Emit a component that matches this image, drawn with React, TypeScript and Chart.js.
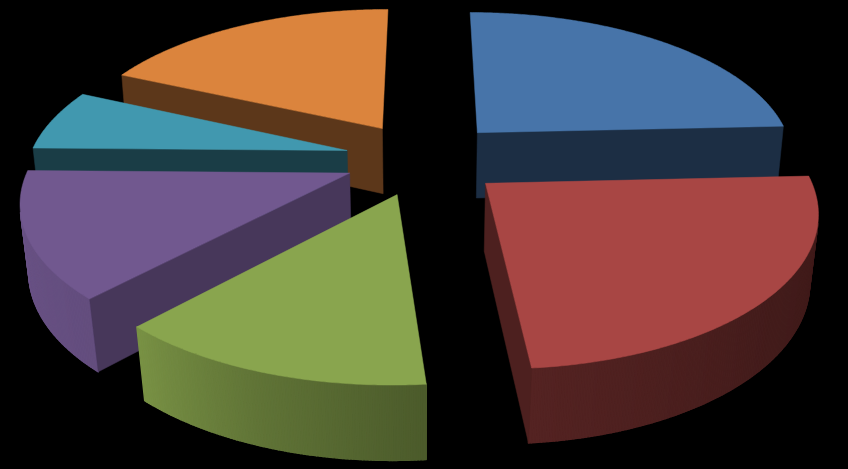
import React, { useEffect, useRef } from "react";
import { Chart, registerables } from "chart.js";

Chart.register(...registerables);

const categories = ["A", "B", "C", "D", "E", "F"];
const values = [24.25, 24.36, 13.33, 13.33, 6.53, 18.2];
const colors = ["#4774A9", "#A84644", "#89A54E", "#71588F", "#4198AF", "#DB843D"];
const wallShades = [0.4, 0.46, 0.4, 0.63, 0.4, 0.42];

// camera of the 3D pie
const view = { cx: 424, cy: 158.5, rx: 318, ry: 147, k: 0.16, depth: 68, shrink: 0.02, explode: 0.25 };
// brightness of the rim by direction (degrees clockwise from the top)
const rimAngles = [0, 90, 130, 175, 175.01, 200, 223, 270, 360];
const rimShade = [0.36, 0.36, 0.4, 0.5, 0.55, 0.7, 0.88, 0.95, 0.6];

function project(u: number, v: number, z: number): [number, number] {
  const w0 = 1 - view.k * v;
  const w = w0 * (1 + (z * view.shrink) / (w0 * w0));
  return [view.cx + (view.rx * u) / w, view.cy + (view.ry * v + view.depth * z) / w];
}

function shade(hex: string, f: number): string {
  const n = parseInt(hex.slice(1), 16);
  const c = [(n >> 16) & 255, (n >> 8) & 255, n & 255].map((x) => Math.round(x * f));
  return `rgb(${c[0]},${c[1]},${c[2]})`;
}

function rimAt(a: number): number {
  let d = ((a + Math.PI / 2) * 180) / Math.PI;
  d = ((d % 360) + 360) % 360;
  for (let i = 1; i < rimAngles.length; i++) {
    if (d <= rimAngles[i]) {
      const t = (d - rimAngles[i - 1]) / (rimAngles[i] - rimAngles[i - 1]);
      return rimShade[i - 1] + t * (rimShade[i] - rimShade[i - 1]);
    }
  }
  return rimShade[0];
}

function area(pts: [number, number][]): number {
  let s = 0;
  pts.forEach((p, i) => {
    const q = pts[(i + 1) % pts.length];
    s += p[0] * q[1] - q[0] * p[1];
  });
  return s;
}

function fillPoly(ctx: CanvasRenderingContext2D, pts: [number, number][], color: string, edge = 0.5) {
  ctx.beginPath();
  pts.forEach((p, i) => (i ? ctx.lineTo(p[0], p[1]) : ctx.moveTo(p[0], p[1])));
  ctx.closePath();
  ctx.fillStyle = color;
  ctx.strokeStyle = color;
  ctx.lineWidth = edge;
  ctx.lineJoin = "round";
  ctx.fill();
  ctx.stroke();
}

const pie3d = {
  id: "pie3d",
  beforeDatasetDraw(chart: any) {
    const ctx: CanvasRenderingContext2D = chart.ctx;
    const arcs = chart.getDatasetMeta(0).data as any[];
    const order = arcs
      .map((arc, i) => ({ arc, i, mid: (arc.startAngle + arc.endAngle) / 2 }))
      .sort((a, b) => Math.sin(a.mid) - Math.sin(b.mid));
    ctx.save();
    for (const { arc, i, mid } of order) {
      const color = colors[i];
      const ou = view.explode * Math.cos(mid);
      const ov = view.explode * Math.sin(mid);
      const n = Math.max(16, Math.round(((arc.endAngle - arc.startAngle) * 180) / Math.PI / 0.5));
      const angles: number[] = [];
      for (let s = 0; s <= n; s++) angles.push(arc.startAngle + ((arc.endAngle - arc.startAngle) * s) / n);
      const rimPoint = (a: number, z: number) => project(ou + Math.cos(a), ov + Math.sin(a), z);
      const apex0 = project(ou, ov, 0);
      const apex1 = project(ou, ov, 1);
      // outer rim, only the part that faces the viewer
      for (let s = 0; s < n; s++) {
        const a = angles[s];
        const b = angles[s + 1];
        const quad: [number, number][] = [rimPoint(a, 0), rimPoint(b, 0), rimPoint(b, 1), rimPoint(a, 1)];
        if (area(quad) < 0) fillPoly(ctx, quad, shade(color, rimAt((a + b) / 2)), 1.4);
      }
      // radial cut faces that face the viewer
      const wall = shade(color, wallShades[i]);
      const startFace: [number, number][] = [apex0, rimPoint(arc.startAngle, 0), rimPoint(arc.startAngle, 1), apex1];
      const endFace: [number, number][] = [rimPoint(arc.endAngle, 0), apex0, apex1, rimPoint(arc.endAngle, 1)];
      if (-Math.cos(arc.startAngle) > 0.05 && area(startFace) < 0) fillPoly(ctx, startFace, wall);
      if (Math.cos(arc.endAngle) > 0.05 && area(endFace) < 0) fillPoly(ctx, endFace, wall);
      // top
      fillPoly(ctx, [apex0, ...angles.map((a) => rimPoint(a, 0))], color);
    }
    ctx.restore();
    return false;
  },
};

export default function App() {
  const ref = useRef<HTMLCanvasElement>(null);
  useEffect(() => {
    const chart = new Chart(ref.current!, {
      type: "pie",
      data: { labels: categories, datasets: [{ data: values, backgroundColor: colors, borderWidth: 0 }] },
      options: {
        responsive: false,
        animation: false,
        rotation: 0,
        plugins: { legend: { display: false }, tooltip: { enabled: false } },
      },
      plugins: [pie3d],
    } as any);
    return () => chart.destroy();
  }, []);
  return (
    <div style={{ position: "fixed", left: 0, top: 0, width: 848, height: 469, background: "#000" }}>
      <canvas ref={ref} width={848} height={469} style={{ display: "block" }} />
    </div>
  );
}
